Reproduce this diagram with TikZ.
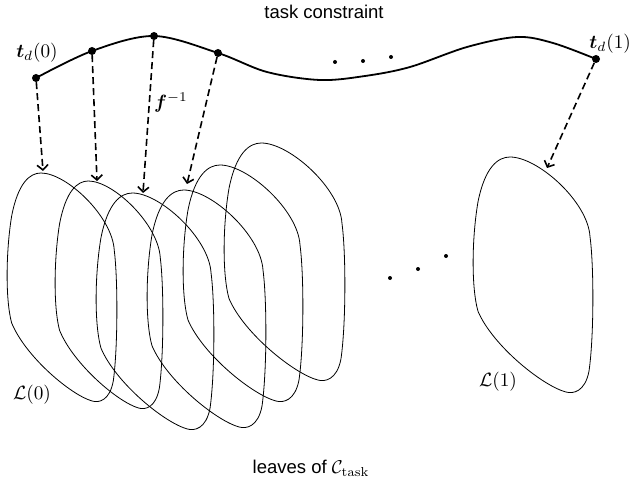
\documentclass[tikz,border=0pt]{standalone}
\usepackage{amsmath,bm}
\usepackage[no-math]{fontspec}
\setmainfont{Liberation Sans}
\usetikzlibrary{arrows.meta}

\tikzset{
  leafline/.style={line width=0.8pt, line join=round},
  pathline/.style={line width=1.8pt},
  waypoint/.style={circle, fill=black, inner sep=0pt, minimum size=8pt},
  smalldot/.style={circle, fill=black, inner sep=0pt, minimum size=4pt},
  mapping/.style={line width=1.6pt, dash pattern=on 7pt off 4pt,
    -{Straight Barb[length=5pt,width=11pt,line width=1.6pt]}},
  mathlabel/.style={font=\normalsize, scale=1.92, transform shape, inner sep=0pt},
  textlabel/.style={font=\normalsize, scale=1.85, transform shape, inner sep=0pt}
}

% one leaf drawn in a 120 x 237 box, top-left corner at the origin
\newcommand{\leafoutline}{%
  (37,0) .. controls (65,0) and (115,45) .. (117,80)
         .. controls (121,110) and (121,180) .. (116,215)
         .. controls (112,236) and (100,238) .. (93,236)
         .. controls (70,230) and (20,190) .. (5,155)
         .. controls (-2,130) and (-1,80) .. (5,45)
         .. controls (12,10) and (25,0) .. (37,0) -- cycle}

\begin{document}
\begin{tikzpicture}[x=1pt, y=-1pt]
\useasboundingbox (0,0) rectangle (634,489);

% leaves of the foliation
\foreach \l/\t/\w/\h in {7/173/110/229, 55/181/108/228, 96/193/118/237,
                          147/190/119/238, 183/165/120/237, 224/143/121/238,
                          473/157/120/236}{
  \begin{scope}[shift={(\l,\t)}, xscale=\w/120, yscale=\h/237]
    \draw[leafline] \leafoutline;
  \end{scope}
}

% points on the task constraint
\node[waypoint] (p0) at (36,78) {};
\node[waypoint] (p1) at (92,51) {};
\node[waypoint] (p2) at (154,36) {};
\node[waypoint] (p3) at (218,53) {};
\node[waypoint] (p4) at (596,59) {};

% the task constraint curve
\draw[pathline] plot[smooth, tension=0.55] coordinates {
  (p0.center) (p1.center) (p2.center) (p3.center) (267,72) (320,80)
  (365,76) (410,67) (467,47) (517,37) (553,43) (p4.center)};

% ellipses
\node[smalldot] (e1) at (335,62) {};
\node[smalldot] (e2) at (363,61) {};
\node[smalldot] (e3) at (391,57) {};
\node[smalldot] (m1) at (390,278) {};
\node[smalldot] (m2) at (418,269) {};
\node[smalldot] (m3) at (446,256) {};

% arrow targets on the leaves
\coordinate (a0) at (43,171);
\coordinate (a1) at (97,181);
\coordinate (a2) at (143,193);
\coordinate (a3) at (187,184);
\coordinate (a4) at (547,168);

\draw[mapping] (p0) -- (a0);
\draw[mapping] (p1) -- (a1);
\draw[mapping] (p2) -- (a2);
\draw[mapping] (p3) -- (a3);
\draw[mapping] (p4) -- (a4);

% labels
\node[mathlabel] (lt0) at (37,53) {$\bm{t}_d(0)$};
\node[mathlabel, anchor=west] (lt1) at (589,44) {$\bm{t}_d(1)$};
\node[mathlabel] (lf) at (171,103) {$\bm{f}^{-1}$};
\node[mathlabel] (ll0) at (32,395) {$\mathcal{L}(0)$};
\node[mathlabel] (ll1) at (498,382) {$\mathcal{L}(1)$};
\node[textlabel] (title) at (324,12) {task constraint};
\node[textlabel] (caption) at (311,468) {leaves of $\mathcal{C}_{\mathrm{task}}$};
\end{tikzpicture}
\end{document}
